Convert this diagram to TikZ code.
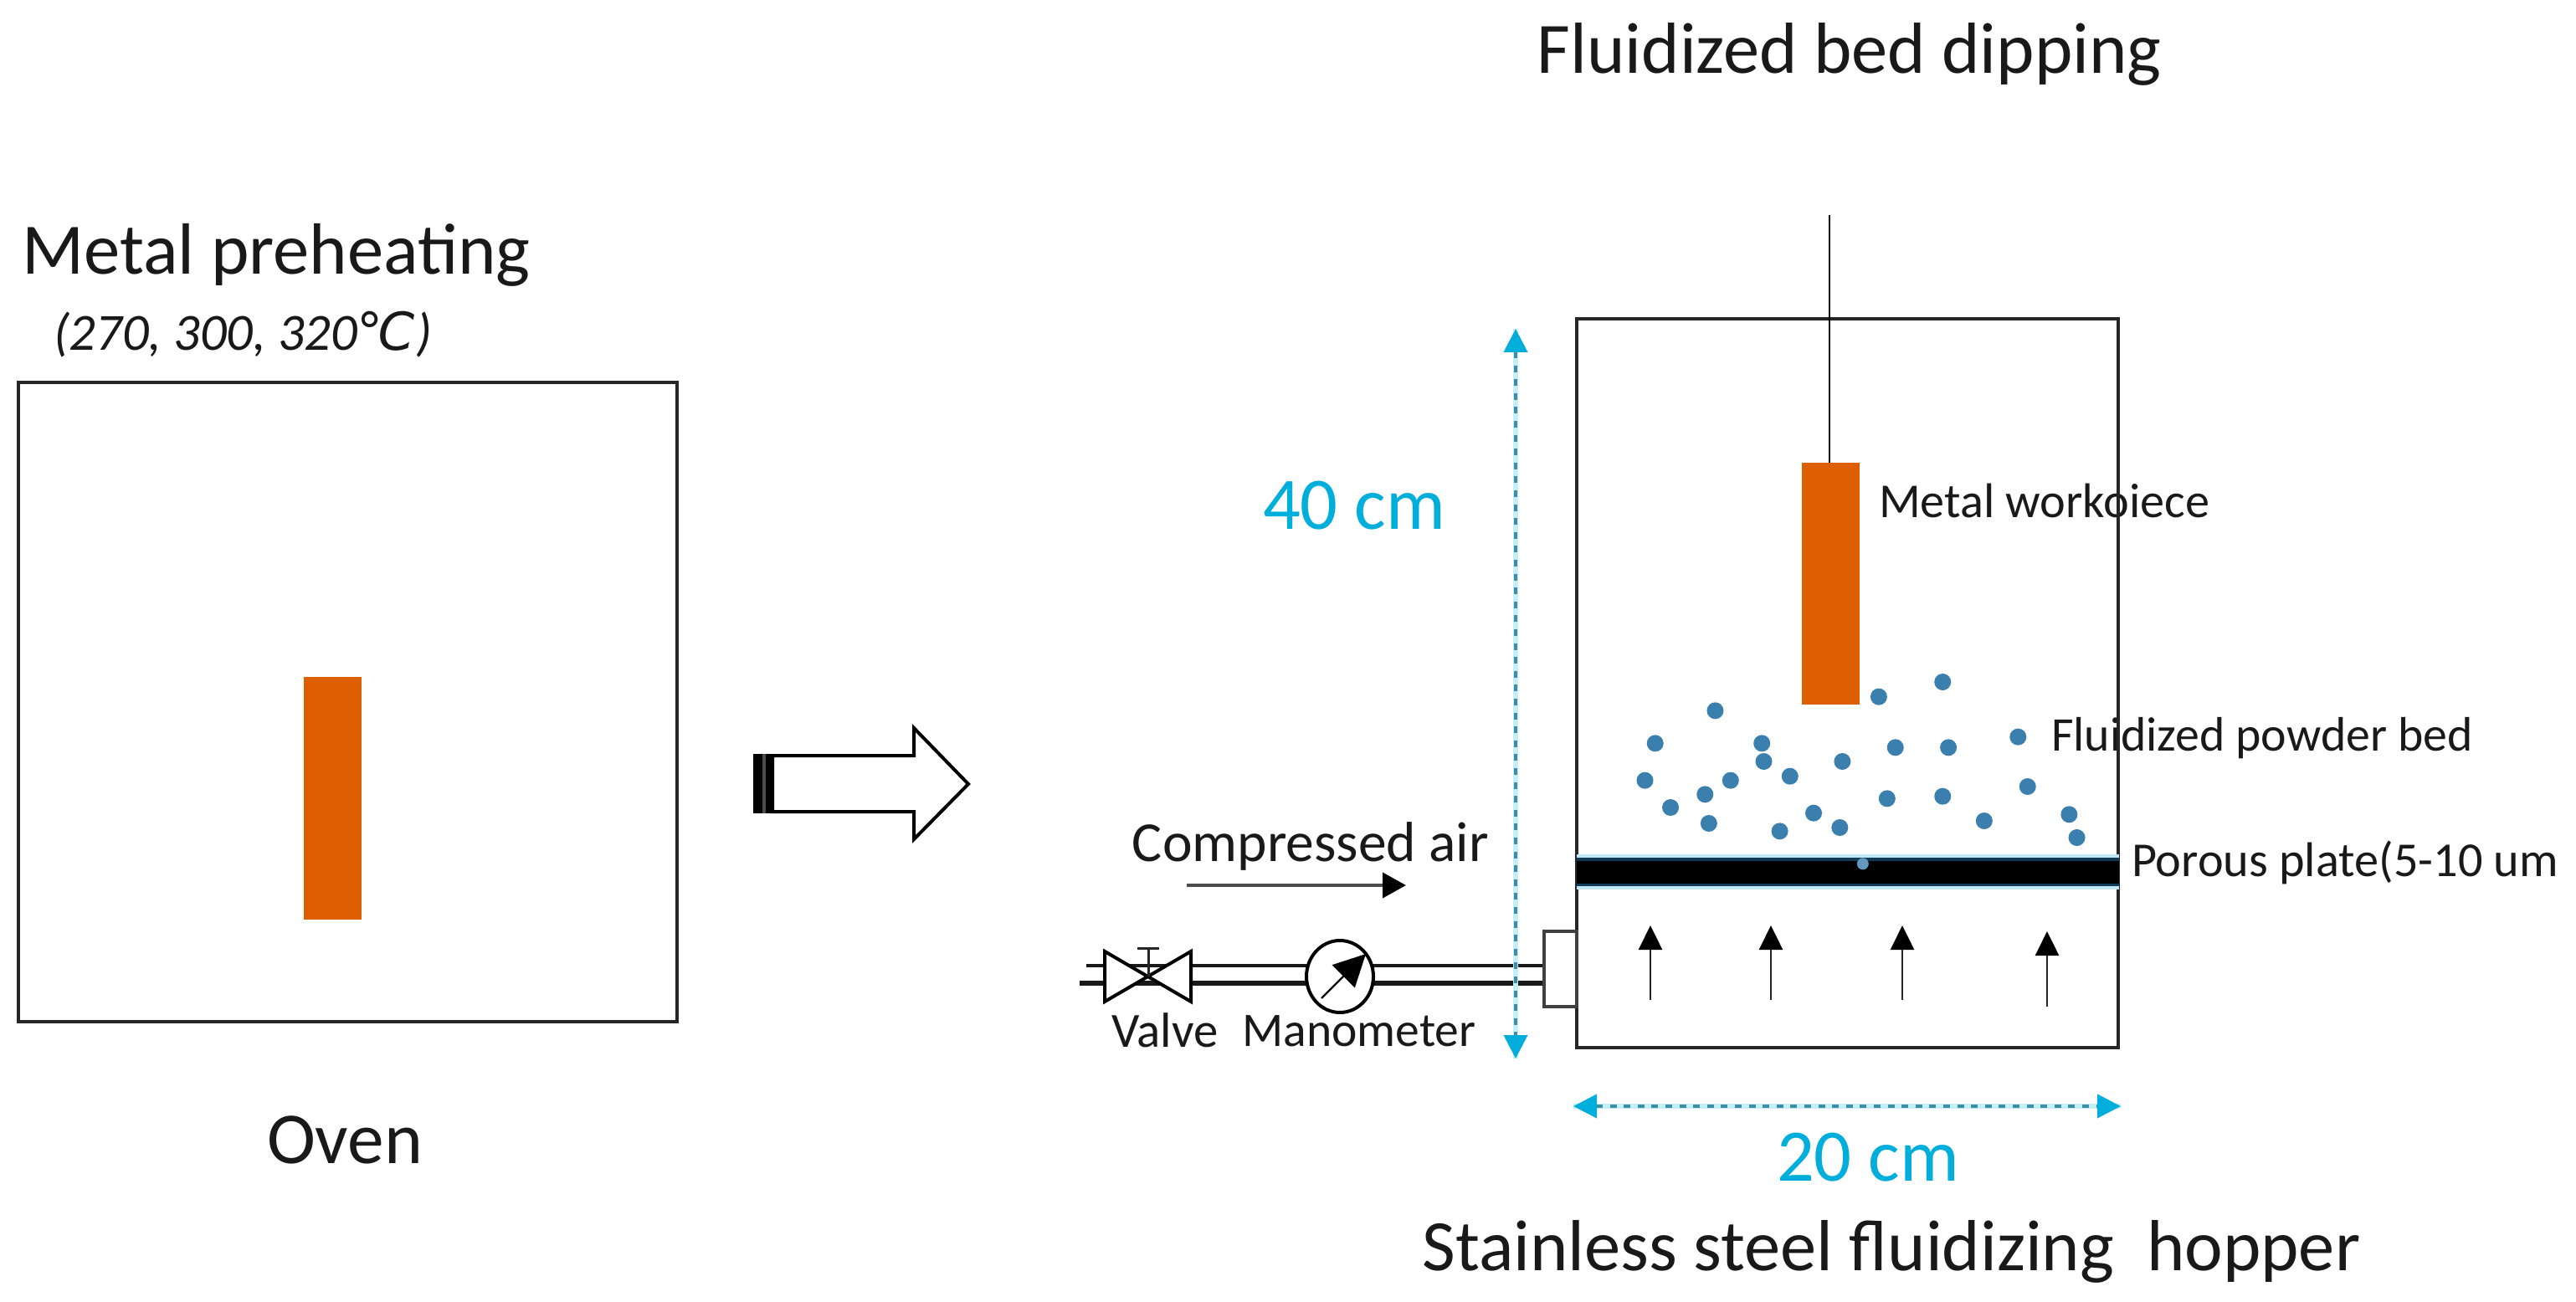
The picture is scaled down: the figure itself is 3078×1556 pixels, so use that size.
\documentclass[tikz,border=0pt]{standalone}
\usepackage{fontspec}
\usepackage{graphicx}
\usetikzlibrary{arrows.meta}
\setmainfont{Carlito}
\newfontfamily\djv{DejaVu Sans}
\definecolor{oxide}{HTML}{DD5F02}
\definecolor{powder}{HTML}{3A7FAE}
\definecolor{dimcyan}{HTML}{00AEDB}
\definecolor{dimdot}{HTML}{3E8FA5}
\definecolor{dimhalo}{HTML}{C4EEF8}
\definecolor{plateedge}{HTML}{0E3A55}
\definecolor{plateglow}{HTML}{BFE6F5}
\newdimen\pxu \pxu=0.5pt
\newcommand{\fitw}[2]{\resizebox{#1\pxu}{!}{\fontsize{20}{24}\selectfont\strut #2}}
\tikzset{
  px/.style={x=0.5pt,y=-0.5pt},
  lab/.style={inner sep=0pt,outer sep=0pt,text=black!90},
  dimlab/.style={inner sep=0pt,outer sep=0pt,text=dimcyan},
  box/.style={draw=black!85,line width=2.2pt},
  metal/.style={fill=oxide,draw=none},
  halo/.style={draw=dimhalo,line width=3pt},
  dimline/.style={draw=dimdot,line width=2pt,dash pattern=on 4pt off 4.3pt,{Triangle[length=14pt,width=14pt,color=dimcyan]}-{Triangle[length=14pt,width=14pt,color=dimcyan]}},
  uparrow/.style={draw=black!85,line width=1.2pt,-{Triangle[length=14.5pt,width=14pt,color=black]}},
  pipeu/.style={draw=black!90,line width=2pt},
  pipel/.style={draw=black!90,line width=3pt},
}
\begin{document}
\begin{tikzpicture}[px]
\useasboundingbox (0,0) rectangle (3078,1556);
\fill[white] (0,0) rectangle (3078,1556);
% oven
\draw[box] (22,457) rectangle (809,1221);
\fill[metal] (363,809) rectangle (432,1099);
% labels that the hopper wall crosses come first
\node[lab,anchor=west] (t9) at (2451,884) {\fitw{504}{Fluidized powder bed}};
\node[lab,anchor=west] (t8) at (2245,605) {\fitw{395}{Metal workoiece}};
% hopper
\draw[box] (1884,381) rectangle (2531,1252);
\fill[plateglow] (1884,1021) rectangle (2532,1063);
\fill[plateedge] (1884,1025) rectangle (2532,1059);
\fill[black] (1884,1029) rectangle (2532,1056);
\draw[draw=black!95,line width=1.3pt] (2186,257) -- (2186,553);
\fill[metal] (2153,553) rectangle (2222,842);
% powder
\foreach \x/\y in {478/158,578/105,222/208,128/325,295/325,504/340,587/340,696/302,298/390,421/390,112/458,246/458,339/443,711/480,206/508,491/523,578/515,152/555,376/575,212/612,323/640,417/627,643/603,776/580,788/663}
  \fill[powder] ({1880+\x/1.31},{780+\y/3}) circle[radius=10];
\fill[powder!80!white] ({1880+453/1.31},{780+757/3}) circle[radius=7];
% up arrows
\coordinate (ua1) at (1972,1195); \coordinate (ub1) at (1972,1106);
\coordinate (ua2) at (2116,1195); \coordinate (ub2) at (2116,1106);
\coordinate (ua3) at (2273,1195); \coordinate (ub3) at (2273,1106);
\coordinate (ua4) at (2446,1203); \coordinate (ub4) at (2446,1113);
\foreach \i in {1,2,3,4} \draw[uparrow] (ua\i) -- (ub\i);
% big transfer arrow
\draw[draw=black,line width=2pt,line join=miter,fill=white] (923,903) -- (1092,903) -- (1092,870) -- (1157,937) -- (1092,1003) -- (1092,970) -- (923,970) -- cycle;
\fill[black] (900,901) rectangle (911,972);
\fill[black!70] (911,901) rectangle (915,972);
\fill[black] (915,901) rectangle (924,972);
% piping
\draw[pipeu] (1298,1154) -- (1845,1154);
\draw[pipel] (1290,1175) -- (1845,1175);
\fill[white] (1320,1137) -- (1372,1167) -- (1320,1197) -- cycle;
\fill[white] (1423,1137) -- (1372,1167) -- (1423,1197) -- cycle;
\draw[draw=black,line width=2pt,line join=miter] (1320,1137) -- (1423,1197) -- (1423,1137) -- (1320,1197) -- cycle;
\draw[draw=black!85,line width=1.5pt] (1372,1167) -- (1372,1133);
\draw[draw=black!85,line width=1.5pt] (1359,1133) -- (1385,1133);
\draw[draw=black,line width=2pt,fill=white] (1601,1167) ellipse[x radius=40,y radius=43];
\coordinate (ga) at (1579,1193); \coordinate (gb) at (1632,1140);
\draw[draw=black,line width=1.2pt,-{Triangle[length=19pt,width=19pt,color=black]}] (ga) -- (gb);
\draw[draw=black!75,line width=2pt,fill=white] (1845,1113) rectangle (1884,1203);
% dimension lines
\coordinate (dv1) at (1811,393); \coordinate (dv2) at (1811,1265);
\coordinate (dh1) at (1880,1322); \coordinate (dh2) at (2534,1322);
\draw[halo] (dv1) -- (dv2);
\draw[halo] (dh1) -- (dh2);
\draw[dimline] (dv1) -- (dv2);
\draw[dimline] (dh1) -- (dh2);
% air arrow
\coordinate (air1) at (1418,1058); \coordinate (air2) at (1680,1058);
\draw[draw=black!70,line width=2pt,-{Triangle[length=14pt,width=15pt,color=black]}] (air1) -- (air2);
% labels
\node[lab] (t1) at (2210,67) {\fitw{746}{Fluidized bed dipping}};
\node[lab] (t2) at (330,307) {\fitw{607}{Metal preheating}};
\node[lab] (t3) at (290,404) {\fitw{452}{\itshape (270, 300, 320{\djv\itshape ℃})}};
\node[lab] (t4) at (412,1370) {\fitw{186}{Oven}};
\node[dimlab] (t5) at (1618,611) {\fitw{218}{40 cm}};
\node[dimlab] (t6) at (2232,1390) {\fitw{218}{20 cm}};
\node[lab] (t7) at (2260,1498) {\fitw{1121}{Stainless steel fluidizing~~hopper}};
\node[lab,anchor=west] (t10) at (2547,1034) {\fitw{510}{Porous plate(5-10 um}};
\node[lab] (t11) at (1566,1013) {\fitw{426}{Compressed air}};
\node[lab] (t12) at (1392,1237) {\fitw{127}{Valve}};
\node[lab] (t13) at (1624,1237) {\fitw{279}{Manometer}};
\end{tikzpicture}
\end{document}
